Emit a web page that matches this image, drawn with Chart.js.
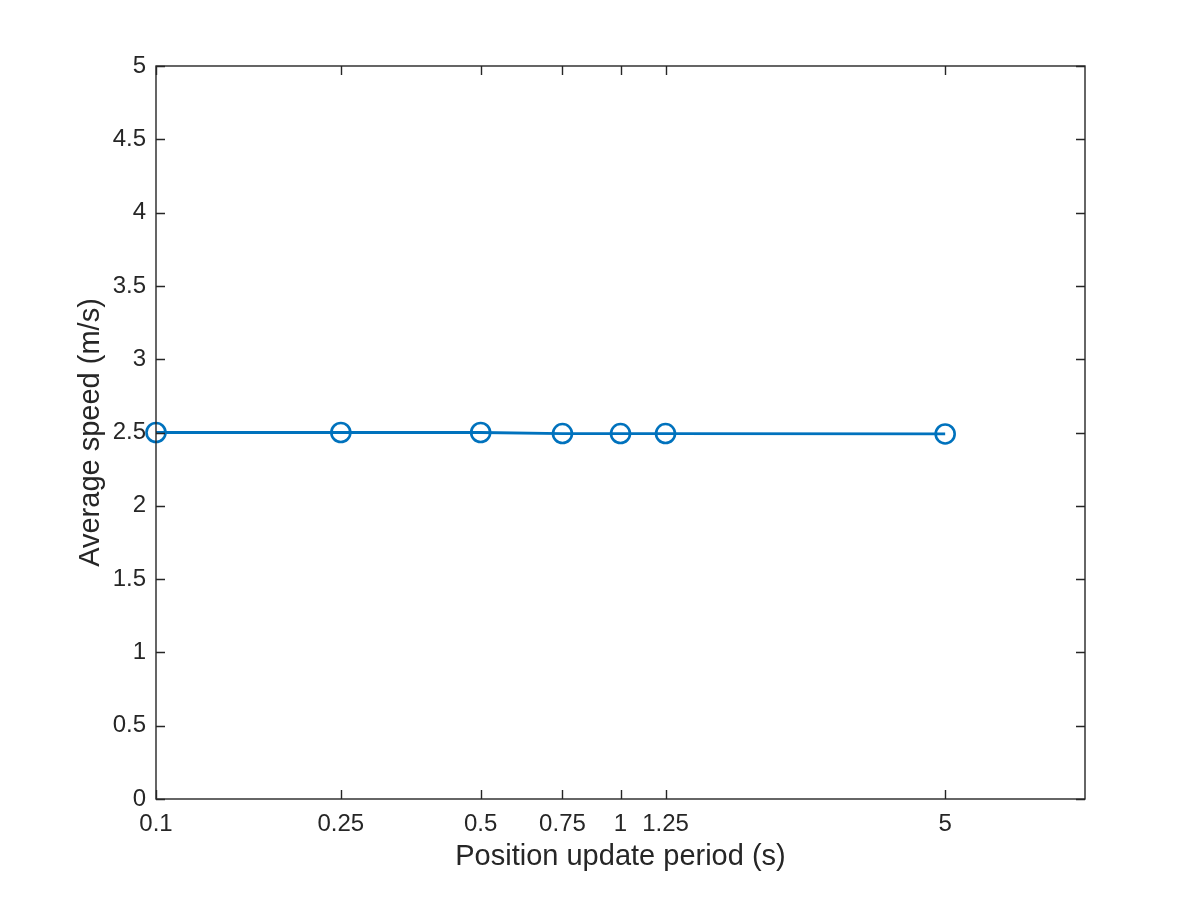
<!DOCTYPE html>
<html>
<head>
<meta charset="utf-8">
<script src="https://cdn.jsdelivr.net/npm/chart.js@4"></script>
<style>
  html, body { margin: 0; padding: 0; background: #fff; }
  #wrap { width: 1200px; height: 900px; }
</style>
</head>
<body>
<div id="wrap"><canvas id="chart" width="1200" height="900"></canvas></div>
<script>
// data
const periods = [0.1, 0.25, 0.5, 0.75, 1, 1.25, 5];
const avgSpeed = [2.50, 2.50, 2.50, 2.493, 2.493, 2.493, 2.49];
const xTicks = [0.1, 0.25, 0.5, 0.75, 1, 1.25, 5];
const yTicks = [0, 0.5, 1, 1.5, 2, 2.5, 3, 3.5, 4, 4.5, 5];

const AXIS_COLOR = '#262626';
const FONT = '"Liberation Sans", Arial, Helvetica, sans-serif';

// box around the axes + inward ticks on all four sides (matlab style)
const boxPlugin = {
  id: 'box',
  afterDraw(chart){
    const {ctx, chartArea: a, scales} = chart;
    const len = 9;
    ctx.save();
    ctx.strokeStyle = AXIS_COLOR;
    ctx.lineWidth = 1.4;
    ctx.strokeRect(a.left, a.top, a.right - a.left, a.bottom - a.top);
    ctx.beginPath();
    xTicks.forEach(v=>{
      const px = Math.round(scales.x.getPixelForValue(v)) + 0.5;
      ctx.moveTo(px, a.bottom); ctx.lineTo(px, a.bottom - len);
      ctx.moveTo(px, a.top); ctx.lineTo(px, a.top + len);
    });
    yTicks.forEach(v=>{
      const py = Math.round(scales.y.getPixelForValue(v)) + 0.5;
      ctx.moveTo(a.left, py); ctx.lineTo(a.left + len, py);
      ctx.moveTo(a.right, py); ctx.lineTo(a.right - len, py);
    });
    ctx.stroke();
    ctx.restore();
  }
};

new Chart(document.getElementById('chart').getContext('2d'), {
  type: 'line',
  data: {
    datasets: [{
      data: periods.map((p, i)=> ({x: p, y: avgSpeed[i]})),
      borderColor: '#0072BD',
      borderWidth: 2.8,
      pointStyle: 'circle',
      pointRadius: 9.5,
      pointBorderWidth: 2.6,
      pointBorderColor: '#0072BD',
      pointBackgroundColor: 'rgba(0,0,0,0)',
      tension: 0,
      clip: false
    }]
  },
  options: {
    responsive: false,
    animation: false,
    layout: { padding: { left: 0, right: 115, top: 66, bottom: 0 } },
    plugins: { legend: { display: false }, tooltip: { enabled: false } },
    scales: {
      x: {
        type: 'logarithmic',
        min: 0.1, max: 10,
        afterBuildTicks: s => { s.ticks = xTicks.map(v=> ({value: v})); },
        afterFit: s => { s.height = 101; },
        grid: { display: false, drawTicks: false },
        border: { display: false },
        ticks: {
          color: AXIS_COLOR, font: { family: FONT, size: 24 }, padding: 11,
          maxRotation: 0, autoSkip: false,
          callback: v => String(v)
        },
        title: {
          display: true, text: 'Position update period (s)', color: AXIS_COLOR,
          font: { family: FONT, size: 29 }, padding: { top: 0, bottom: 26 }
        }
      },
      y: {
        min: 0, max: 5,
        afterBuildTicks: s => { s.ticks = yTicks.map(v=> ({value: v})); },
        afterFit: s => { s.width = 156; },
        grid: { display: false, drawTicks: false },
        border: { display: false },
        ticks: {
          color: AXIS_COLOR, font: { family: FONT, size: 24 }, padding: 10,
          callback: v => String(v)
        },
        title: {
          display: true, text: 'Average speed (m/s)', color: AXIS_COLOR,
          font: { family: FONT, size: 29 }, padding: { top: 74, bottom: 0 }
        }
      }
    }
  },
  plugins: [boxPlugin]
});
</script>
</body>
</html>
